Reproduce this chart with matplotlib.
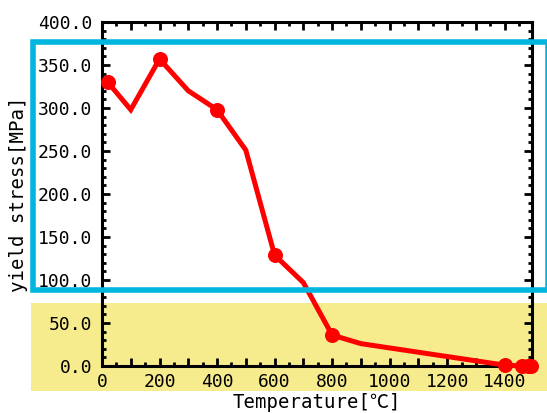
import matplotlib
matplotlib.use("Agg")
import matplotlib.pyplot as plt
from matplotlib.ticker import MultipleLocator, FuncFormatter
from matplotlib.patches import Rectangle

# ---- data ----
line_temp = [20, 100, 200, 300, 400, 500, 600, 700, 800, 900, 1400, 1460, 1480, 1490]
line_stress = [330, 298, 357, 320, 298, 251, 129, 97, 36, 26, 1, 0, 0, 0]
marker_temp = [20, 200, 400, 600, 800, 1400, 1460, 1480, 1490]
marker_stress = [330, 357, 298, 129, 36, 1, 0, 0, 0]
xlabel = "Temperature[℃]"
ylabel = "yield stress[MPa]"

plt.rcParams['font.family'] = ['DejaVu Sans Mono', 'Noto Sans CJK JP', 'DejaVu Sans']

W, H = 547, 413
fig = plt.figure(figsize=(W / 100, H / 100), dpi=100)
fig.patch.set_facecolor('white')

# yellow band behind
fig.patches.append(Rectangle((31 / W, (H - 391) / H), (W - 31) / W, 88 / H,
                             transform=fig.transFigure, facecolor='#F6EB8D',
                             edgecolor='none', zorder=-5))

ax = fig.add_axes([102 / W, (H - 366) / H, 430 / W, 344 / H])
ax.set_facecolor('none')

ax.plot(line_temp, line_stress, color='#FF0000', lw=3.6, solid_joinstyle='miter',
        clip_on=False, zorder=3)
ax.plot(marker_temp, marker_stress, 'o', color='#FF0000', ms=10.8, mec='none',
        clip_on=False, zorder=4)

ax.set_xlim(0, 1495)
ax.set_ylim(0, 400)

ax.xaxis.set_major_locator(MultipleLocator(100))
ax.xaxis.set_minor_locator(MultipleLocator(50))
ax.xaxis.set_major_formatter(FuncFormatter(lambda v, p: f"{int(round(v))}" if round(v) % 200 == 0 else ""))
ax.yaxis.set_major_locator(MultipleLocator(50))
ax.yaxis.set_minor_locator(MultipleLocator(10))
ax.yaxis.set_major_formatter(FuncFormatter(lambda v, p: f"{v:.1f}"))

ax.tick_params(which='both', direction='in', top=True, right=True, width=2.0,
               color='black', labelsize=13, labelcolor='black')
ax.tick_params(which='major', length=6)
ax.tick_params(which='minor', length=3)
ax.tick_params(axis='y', pad=7)
ax.tick_params(axis='x', pad=5)

for s in ax.spines.values():
    s.set_linewidth(2.2)
    s.set_color('black')

ax.set_xlabel(xlabel, fontsize=13.7)
ax.set_ylabel(ylabel, fontsize=13.7)
ax.xaxis.set_label_coords(0.5, -0.078)
ax.xaxis.label.set_va('top')
ax.yaxis.set_label_coords(-0.172, 0.5)

# cyan outline on top
fig.patches.append(Rectangle((33 / W, (H - 289.7) / H), (548 - 33) / W, (289.7 - 42) / H,
                             transform=fig.transFigure, facecolor='none',
                             edgecolor='#00B6DE', lw=4.0, zorder=10))

fig.savefig('out.png', dpi=100)
